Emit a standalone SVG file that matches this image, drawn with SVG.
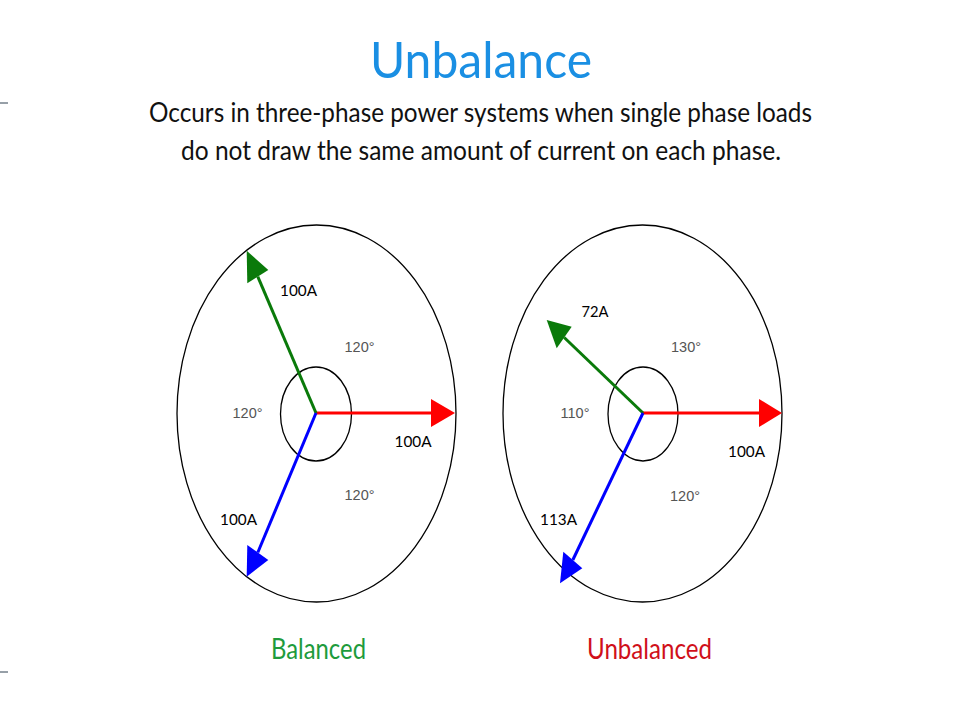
<svg xmlns="http://www.w3.org/2000/svg" width="960" height="720" viewBox="0 0 960 720">
<style>
.ring{fill:none;stroke:#000;stroke-width:1.3}
.amp{font-family:Lato,"Open Sans","Liberation Sans",sans-serif;font-size:16px;fill:#000;text-anchor:middle}
.deg{font-family:"Liberation Sans",Arial,sans-serif;font-size:14.5px;fill:#555;text-anchor:middle}
.hdr{font-family:Lato,"Open Sans","Liberation Sans",sans-serif;text-anchor:middle}
</style>
<rect width="960" height="720" fill="#fff"/>
<line x1="0" y1="103" x2="8" y2="103" stroke="#2F4050" stroke-width="1"/>
<line x1="0" y1="672" x2="8" y2="672" stroke="#2F4050" stroke-width="1"/>
<g id="title">
<text class="hdr" x="481" y="78" font-size="50" fill="#1A8FE3" textLength="222" lengthAdjust="spacingAndGlyphs">Unbalance</text>
<text class="hdr" x="480.5" y="122" font-size="27" fill="#111" textLength="663" lengthAdjust="spacingAndGlyphs">Occurs in three-phase power systems when single phase loads</text>
<text class="hdr" x="481" y="160" font-size="27" fill="#111" textLength="600" lengthAdjust="spacingAndGlyphs">do not draw the same amount of current on each phase.</text>
</g>
<g id="balanced">
<ellipse class="ring" cx="316.5" cy="413.5" rx="139.5" ry="188.5"/>
<ellipse class="ring" cx="316" cy="414" rx="35.5" ry="47"/>
<g id="bal-connectors">
<line x1="316" y1="413" x2="433" y2="413" stroke="#FF0000" stroke-width="3"/>
<polygon points="455,413 431,399 431,427" fill="#FF0000"/>
<line x1="316" y1="413" x2="257.8" y2="276.7" stroke="#0A7A0A" stroke-width="3"/>
<polygon points="246.7,250.7 247.3,283.3 268.3,270" fill="#0A7A0A"/>
<line x1="316" y1="413" x2="257.8" y2="552.5" stroke="#0000FF" stroke-width="3"/>
<polygon points="246.7,576.7 247.3,545 268.3,560" fill="#0000FF"/>
</g>
<text class="amp" x="298.5" y="296" textLength="37" lengthAdjust="spacingAndGlyphs">100A</text>
<text class="amp" x="413" y="447" textLength="37" lengthAdjust="spacingAndGlyphs">100A</text>
<text class="amp" x="238.5" y="525" textLength="37" lengthAdjust="spacingAndGlyphs">100A</text>
<text class="deg" x="359.5" y="352">120°</text>
<text class="deg" x="247.5" y="418">120°</text>
<text class="deg" x="359.5" y="500">120°</text>
<text class="hdr" x="318.5" y="659" font-size="28" fill="#1E9B3C" textLength="95" lengthAdjust="spacingAndGlyphs">Balanced</text>
</g>
<g id="unbalanced">
<ellipse class="ring" cx="642.5" cy="413.5" rx="139.5" ry="188.5"/>
<ellipse class="ring" cx="643" cy="414" rx="35" ry="47"/>
<g id="unbal-connectors">
<line x1="643" y1="413" x2="761" y2="413" stroke="#FF0000" stroke-width="3"/>
<polygon points="782,413 759,399 759,427" fill="#FF0000"/>
<line x1="643" y1="413" x2="564.2" y2="337.5" stroke="#0A7A0A" stroke-width="3"/>
<polygon points="546.7,320 556.7,348.3 571.7,326.7" fill="#0A7A0A"/>
<line x1="643" y1="413" x2="572.8" y2="560" stroke="#0000FF" stroke-width="3"/>
<polygon points="560,583.3 563.3,551.7 582.3,568.3" fill="#0000FF"/>
</g>
<text class="amp" x="595" y="317" textLength="27" lengthAdjust="spacingAndGlyphs">72A</text>
<text class="amp" x="746.5" y="457" textLength="37" lengthAdjust="spacingAndGlyphs">100A</text>
<text class="amp" x="558.5" y="525" textLength="37" lengthAdjust="spacingAndGlyphs">113A</text>
<text class="deg" x="686" y="352">130°</text>
<text class="deg" x="575" y="418">110°</text>
<text class="deg" x="685" y="501">120°</text>
<text class="hdr" x="649.5" y="659" font-size="28" fill="#D0101A" textLength="125" lengthAdjust="spacingAndGlyphs">Unbalanced</text>
</g>
</svg>
